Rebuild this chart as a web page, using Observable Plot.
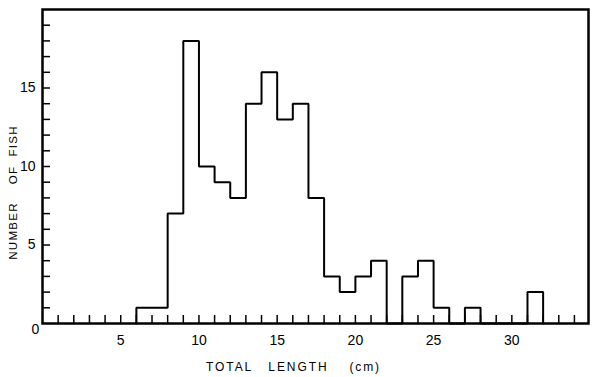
<!DOCTYPE html>
<html>
<head>
<meta charset="utf-8">
<script src="https://cdn.jsdelivr.net/npm/d3@7"></script>
<script src="https://cdn.jsdelivr.net/npm/@observablehq/plot@0.6"></script>
<style>
  html, body { margin: 0; padding: 0; background: #fff; }
</style>
</head>
<body>
<div id="chart"></div>
<script>
// ---- data ----
const binStarts = [6,7,8,9,10,11,12,13,14,15,16,17,18,19,20,21,22,23,24,25,26,27,28,29,30,31];
const counts    = [1,1,7,18,10,9,8,14,16,13,14,8,3,2,3,4,0,3,4,1,0,1,0,0,0,2];
const binWidth = 1;
const xTickLabels = [5,10,15,20,25,30];
const yTickLabels = [5,10,15];
const xMinorTicks = d3.range(1, 35);
const yMinorTicks = d3.range(1, 20);
const xTitle = "TOTAL   LENGTH    (cm)";
const yTitle = "NUMBER    OF  FISH";

// ---- layout ----
const W = 600, H = 377;
const mL = 42, mR = 12, mT = 9, mB = 54;
const frameW = W - mL - mR, frameH = H - mT - mB;
const tickLen = 8;

// step outline built from the bins
const outline = [
  {x: binStarts[0], y: 0},
  ...binStarts.map((s, i) => ({x: s, y: counts[i]})),
  {x: binStarts[binStarts.length - 1] + binWidth, y: 0}
];

const chart = Plot.plot({
  width: W, height: H,
  marginLeft: mL, marginRight: mR, marginTop: mT, marginBottom: mB,
  style: {fontFamily: "'Liberation Sans', Arial, Helvetica, sans-serif", fontSize: "14px", color: "#000", background: "#fff"},
  x: {domain: [0, 34.9], axis: null},
  y: {domain: [0, 20], axis: null},
  marks: [
    Plot.ruleY(yMinorTicks, {y: d => d, insetRight: frameW - tickLen, stroke: "#000", strokeWidth: 1.5}),
    Plot.ruleX(xMinorTicks, {x: d => d, insetTop: frameH - tickLen, stroke: "#000", strokeWidth: 1.5}),
    Plot.line(outline, {x: "x", y: "y", curve: "step-after", stroke: "#000", strokeWidth: 2, strokeLinejoin: "miter"}),
    Plot.frame({stroke: "#000", strokeWidth: 2.5}),
    Plot.axisX({ticks: xTickLabels, tickSize: 0, tickPadding: 12, label: null, fontSize: 14}),
    Plot.axisY({ticks: yTickLabels, tickSize: 0, tickPadding: 7, label: null, fontSize: 14}),
    Plot.text(["0"], {frameAnchor: "bottom-left", dx: -7, dy: 10, fontSize: 14, textAnchor: "middle"}),
    Plot.text([xTitle], {frameAnchor: "bottom", dx: -22, dy: 44, fontSize: 12, textAnchor: "middle", lineAnchor: "middle"}),
    Plot.text([yTitle], {frameAnchor: "left", dx: -29, dy: 26, rotate: -90, fontSize: 11.5, textAnchor: "middle", lineAnchor: "middle"})
  ]
});
const svg = d3.select(chart);
svg.selectAll("text").filter(function() { return this.textContent === xTitle; })
  .style("letter-spacing", "1.9px").style("font-size", "12px").style("white-space", "pre");
svg.selectAll("text").filter(function() { return this.textContent === yTitle; })
  .style("letter-spacing", "1.3px").style("font-size", "11.5px").style("white-space", "pre");
document.getElementById("chart").appendChild(chart);
</script>
</body>
</html>
